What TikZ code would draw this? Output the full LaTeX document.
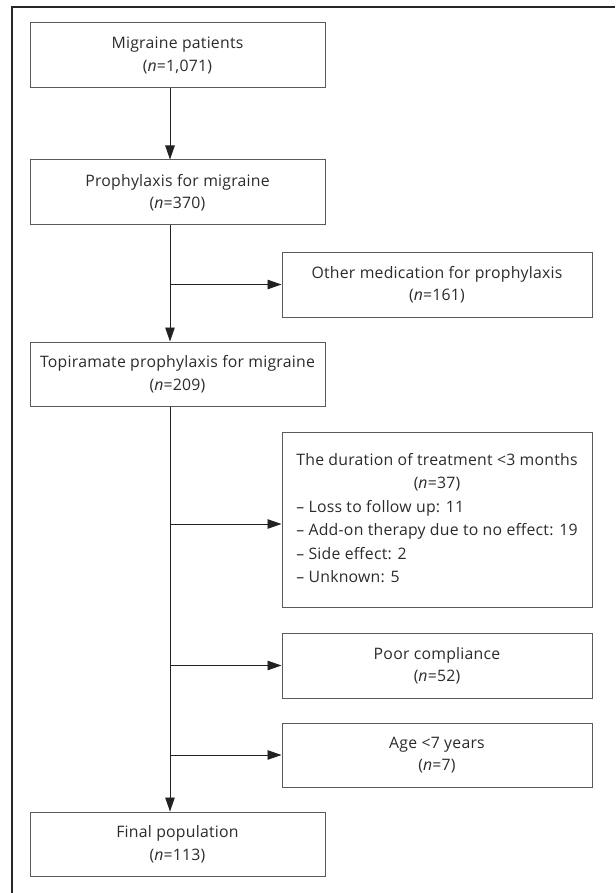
\documentclass[tikz,border=0pt]{standalone}
\usepackage{fontspec}
\setmainfont{Open Sans}[LetterSpace=1.5]
\usetikzlibrary{arrows.meta}
\definecolor{txt}{HTML}{2B2B2B}
\definecolor{boxline}{HTML}{5A5A5A}
\definecolor{arr}{HTML}{222222}
\tikzset{
  flowbox/.style={draw=boxline, line width=1pt, minimum height=65pt, inner sep=0pt,
    text=txt, align=center, font=\fontsize{15.8}{22.5}\selectfont},
  leftbox/.style={flowbox, minimum width=295pt},
  rightbox/.style={flowbox, minimum width=310pt},
  conn/.style={draw=arr, line width=0.9pt, -{Triangle[length=14pt,width=9.5pt]}},
  frameline/.style={draw=black!85, line width=1.3pt}
}
\newcommand{\nn}{\textit{n}}
\begin{document}
\begin{tikzpicture}[x=1pt,y=-1pt]
\useasboundingbox (0,0) rectangle (615,893);
\draw[frameline] (615,7) -- (12,7) -- (12,893);
\coordinate (tx) at (170,0);
\node[leftbox] (b1) at (177.5,55.5) {Migraine patients\\(\nn=1,071)};
\node[leftbox] (b2) at (177.5,192.5) {Prophylaxis for migraine\\(\nn=370)};
\node[rightbox] (b3) at (437,284.5) {Other medication for prophylaxis\\(\nn=161)};
\node[leftbox, minimum height=64pt] (b4) at (177.5,374) {Topiramate prophylaxis for migraine\\(\nn=209)};
\node[rightbox, minimum height=175pt, font=\fontsize{15.8}{23.5}\selectfont] (b5) at (437,519.5) {\begin{tabular}{@{}l@{}}
\multicolumn{1}{@{}c@{}}{The duration of treatment <3 months}\\
\multicolumn{1}{@{}c@{}}{(\nn=37)}\\
– Loss to follow up: 11\\
– Add-on therapy due to no effect: 19\\
– Side effect: 2\\
– Unknown: 5
\end{tabular}};
\node[rightbox] (b6) at (437,665.5) {Poor compliance\\(\nn=52)};
\node[rightbox, minimum height=64pt] (b7) at (437,755) {Age <7 years\\(\nn=7)};
\node[leftbox, minimum height=64pt] (b8) at (177.5,844) {Final population\\(\nn=113)};
% connectors
\draw[conn] (b1.south -| tx) -- (b2.north -| tx);
\draw[conn] (b2.south -| tx) -- (b4.north -| tx);
\draw[conn] (b3.west -| tx) -- (b3.west);
\draw[conn] (b4.south -| tx) -- (b8.north -| tx);
\draw[conn] ([yshift=-4.5pt]b5.west -| tx) -- ([yshift=-4.5pt]b5.west);
\draw[conn] (b6.west -| tx) -- (b6.west);
\draw[conn] (b7.west -| tx) -- (b7.west);
\end{tikzpicture}
\end{document}
